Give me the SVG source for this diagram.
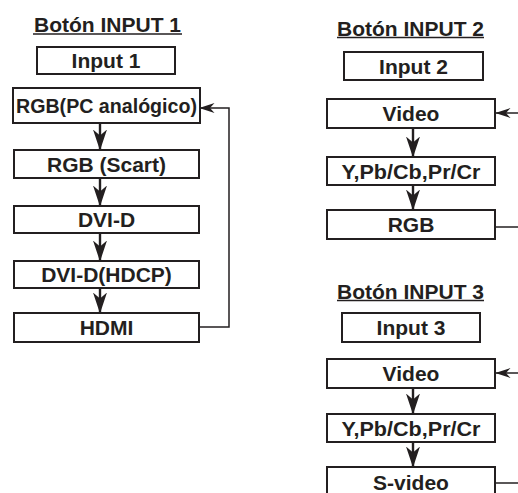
<svg xmlns="http://www.w3.org/2000/svg" width="518" height="493" viewBox="0 0 518 493">
<defs>
<style>
.bx{fill:#fff;stroke:#231f20;stroke-width:2}
.t{font-family:"Liberation Sans",Arial,sans-serif;font-weight:bold;font-size:21px;fill:#231f20;text-anchor:middle}
.ul{stroke:#231f20;stroke-width:1.6}
.ar{fill:none;stroke:#231f20;stroke-width:2.4;marker-end:url(#ah)}
.fb{fill:none;stroke:#231f20;stroke-width:1.5}
.fba{fill:none;stroke:#231f20;stroke-width:1.5;marker-end:url(#ah2)}
</style>
<marker id="ah" markerUnits="userSpaceOnUse" viewBox="0 0 21 14" markerWidth="21" markerHeight="14" refX="20.5" refY="7" orient="auto">
<path d="M0,0 L21,7 L0,14 L6,7 Z" fill="#231f20"/>
</marker>
<marker id="ah2" markerUnits="userSpaceOnUse" viewBox="0 0 15 10" markerWidth="15" markerHeight="10" refX="14.5" refY="5" orient="auto">
<path d="M0,0 L15,5 L0,10 L4.5,5 Z" fill="#231f20"/>
</marker>
</defs>
<rect width="518" height="493" fill="#fff"/>

<g id="title1"><text class="t" x="107.5" y="32">Botón INPUT 1</text><line class="ul" x1="33" y1="34" x2="182" y2="34"/></g>
<g id="title2"><text class="t" x="410.5" y="35.5">Botón INPUT 2</text><line class="ul" x1="337" y1="37.5" x2="484" y2="37.5"/></g>
<g id="title3"><text class="t" x="410.5" y="298.5">Botón INPUT 3</text><line class="ul" x1="337" y1="300.5" x2="484" y2="300.5"/></g>

<g id="connectors">
<line class="ar" x1="100" y1="123" x2="100" y2="150"/>
<line class="ar" x1="100" y1="178" x2="100" y2="206"/>
<line class="ar" x1="100" y1="233" x2="100" y2="261"/>
<line class="ar" x1="100" y1="288" x2="100" y2="313"/>
<polyline class="fba" points="199,327 229,327 229,108 200,108"/>
<line class="ar" x1="413" y1="128" x2="413" y2="157"/>
<line class="ar" x1="413" y1="185" x2="413" y2="210"/>
<line class="fba" x1="518" y1="113" x2="496" y2="113"/>
<line class="fb" x1="495" y1="227" x2="518" y2="227"/>
<line class="ar" x1="413" y1="388" x2="413" y2="414"/>
<line class="ar" x1="413" y1="442" x2="413" y2="467"/>
<line class="fba" x1="518" y1="373" x2="496" y2="373"/>
<line class="fb" x1="495" y1="483" x2="518" y2="483"/>
</g>

<g id="input1"><rect class="bx" x="37" y="47" width="138" height="27"/><text class="t" x="106" y="68">Input 1</text></g>
<g id="rgbpc"><rect class="bx" x="13" y="88" width="187" height="35"/><text class="t" x="106.5" y="113" textLength="181" lengthAdjust="spacingAndGlyphs">RGB(PC analógico)</text></g>
<g id="rgbscart"><rect class="bx" x="14" y="150" width="185" height="28"/><text class="t" x="106.5" y="171.5">RGB (Scart)</text></g>
<g id="dvid"><rect class="bx" x="14" y="206" width="185" height="27"/><text class="t" x="106.5" y="227">DVI-D</text></g>
<g id="dvidhdcp"><rect class="bx" x="14" y="261" width="185" height="27"/><text class="t" x="106.5" y="282">DVI-D(HDCP)</text></g>
<g id="hdmi"><rect class="bx" x="14" y="313" width="185" height="29"/><text class="t" x="106.5" y="335">HDMI</text></g>

<g id="input2"><rect class="bx" x="344" y="52" width="139" height="28"/><text class="t" x="413.5" y="73.5">Input 2</text></g>
<g id="video2"><rect class="bx" x="327" y="99" width="168" height="29"/><text class="t" x="411" y="121">Video</text></g>
<g id="ypb2"><rect class="bx" x="327" y="157" width="168" height="28"/><text class="t" x="411" y="178.5" textLength="139" lengthAdjust="spacingAndGlyphs">Y,Pb/Cb,Pr/Cr</text></g>
<g id="rgb2"><rect class="bx" x="327" y="210" width="168" height="29"/><text class="t" x="411" y="232">RGB</text></g>

<g id="input3"><rect class="bx" x="342" y="313" width="138" height="29"/><text class="t" x="411" y="335">Input 3</text></g>
<g id="video3"><rect class="bx" x="327" y="359" width="168" height="29"/><text class="t" x="411" y="381">Video</text></g>
<g id="ypb3"><rect class="bx" x="327" y="414" width="168" height="28"/><text class="t" x="411" y="435.5" textLength="139" lengthAdjust="spacingAndGlyphs">Y,Pb/Cb,Pr/Cr</text></g>
<g id="svideo3"><rect class="bx" x="327" y="467" width="168" height="30"/><text class="t" x="411" y="490">S-video</text></g>
</svg>
